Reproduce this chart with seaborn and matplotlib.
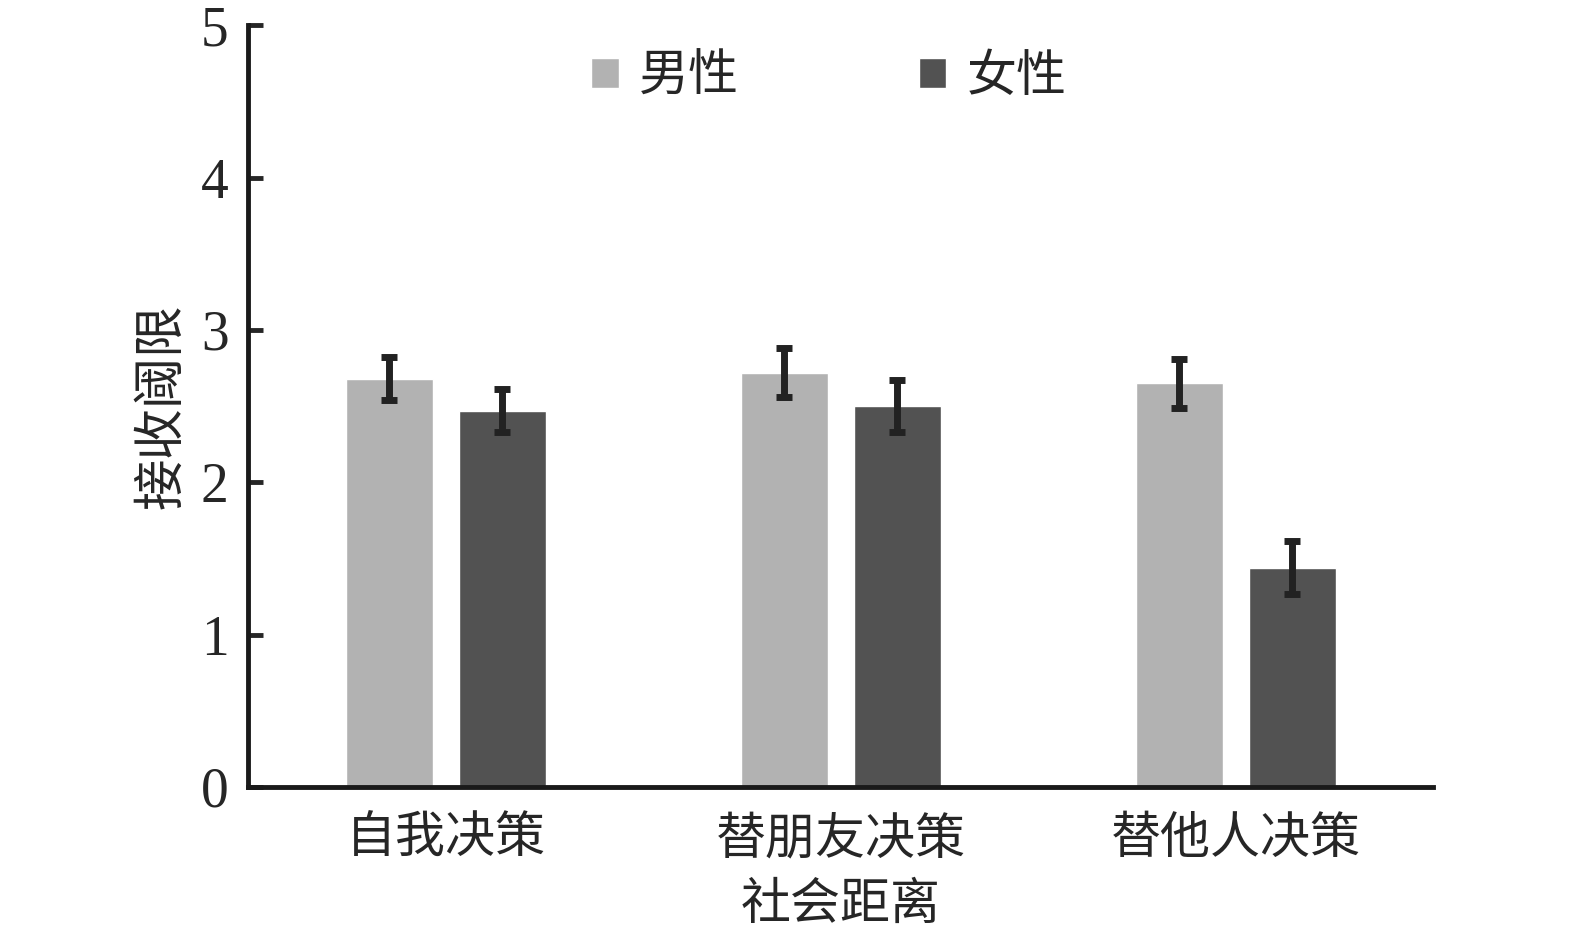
import pandas as pd
import numpy as np
import seaborn as sns
import matplotlib.pyplot as plt

# data
conditions = ['自我决策', '替朋友决策', '替他人决策']
genders = ['男性', '女性']
male_mean = [2.68, 2.72, 2.65]
female_mean = [2.47, 2.50, 1.44]
male_err = [0.14, 0.16, 0.16]
female_err = [0.14, 0.17, 0.175]

df = pd.DataFrame({
    '社会距离': conditions * 2,
    '性别': [genders[0]] * 3 + [genders[1]] * 3,
    '接收阈限': male_mean + female_mean,
    'err': male_err + female_err,
})

sns.set_style('ticks')
plt.rcParams['font.family'] = ['Liberation Serif', 'Noto Sans CJK SC']
plt.rcParams['axes.unicode_minus'] = False

fig = plt.figure(figsize=(15.75, 9.39), dpi=100)
ax = fig.add_axes([0.1575, 0.162, 0.7525, 0.811])

palette = {'男性': '#b2b2b2', '女性': '#525252'}
sns.barplot(data=df, x='社会距离', y='接收阈限', hue='性别', hue_order=genders,
            order=conditions, palette=palette, width=0.572, gap=0.23,
            errorbar=None, saturation=1, ax=ax)

# error bars at bar centres
for cont, g in zip(ax.containers, genders):
    sub = df[df['性别'] == g].set_index('社会距离').loc[conditions]
    xs = [p.get_x() + p.get_width() / 2 for p in cont.patches]
    ax.errorbar(xs, sub['接收阈限'], yerr=sub['err'], fmt='none',
                ecolor='#222222', elinewidth=5, capsize=6, capthick=5)

ax.set_xlim(-0.5, 2.5)
ax.set_ylim(0, 5)
ax.set_yticks([0, 1, 2, 3, 4, 5])
ax.set_xlabel('社会距离', fontsize=36, labelpad=14)
ax.set_ylabel('接收阈限', fontsize=37, labelpad=10)
ax.tick_params(axis='y', direction='in', length=11, width=3.5, labelsize=40, pad=14)
ax.tick_params(axis='x', length=0, labelsize=36, pad=22)
for s in ['left', 'bottom']:
    ax.spines[s].set_linewidth(3.5)
    ax.spines[s].set_color('#1a1a1a')
sns.despine(ax=ax)

handles, labels = ax.get_legend_handles_labels()
ax.legend(handles, labels, ncol=2, loc='upper center', bbox_to_anchor=(0.49, 1.02),
          frameon=False, fontsize=36, handlelength=0.55, handleheight=0.55,
          handletextpad=0.4, columnspacing=3.6)

fig.savefig('out.png', dpi=100)
